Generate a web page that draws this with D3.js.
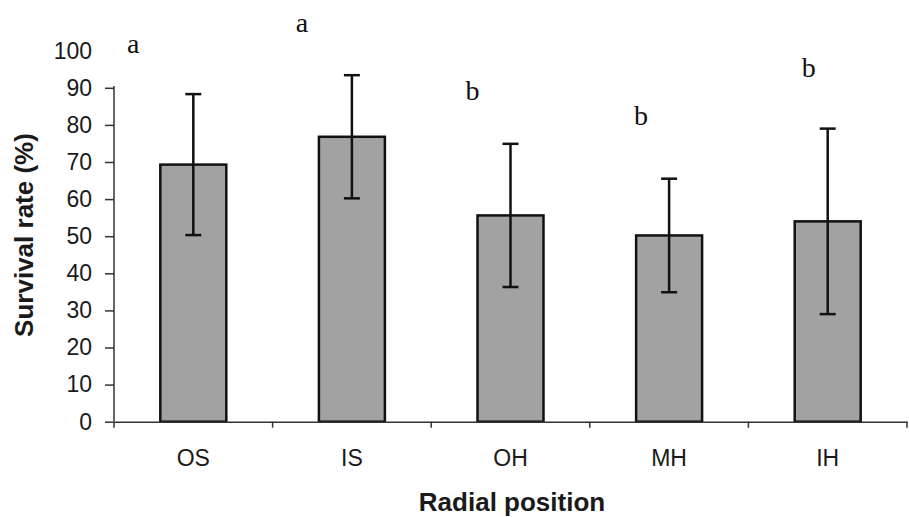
<!DOCTYPE html>
<html>
<head>
<meta charset="utf-8">
<script src="https://cdn.jsdelivr.net/npm/d3@7"></script>
<style>
  body { margin: 0; background: #fff; }
  svg { display: block; font-family: 'Liberation Sans', Arial, sans-serif; }
</style>
</head>
<body>
<div id="chart"></div>
<script>
const categories = ['OS', 'IS', 'OH', 'MH', 'IH'];
const survival = [69.3, 76.8, 55.6, 50.2, 54.0];
const errors = [19, 16.6, 19.3, 15.3, 25];
const letters = ['a', 'a', 'b', 'b', 'b'];
const yTicks = [0, 10, 20, 30, 40, 50, 60, 70, 80, 90, 100];

// where each significance letter sits: offset from bar centre (px) and height (in % units)
const letterPlacement = [
  { dx: -60, at: 99.4 },
  { dx: -50, at: 105 },
  { dx: -38, at: 86.7 },
  { dx: -28, at: 80 },
  { dx: -19, at: 92.9 },
];

const dimensions = {
  width: 909,
  height: 517,
  left: 114,
  right: 907,
  top: 50.7,
  bottom: 421.7,
};

const svg = d3.select('#chart').append('svg').attr('width', dimensions.width).attr('height', dimensions.height);

const xScale = d3.scaleBand().domain(categories).range([dimensions.left, dimensions.right]).paddingInner(0.584).paddingOuter(0.292);
const yScale = d3.scaleLinear().domain([0, 100]).range([dimensions.bottom, dimensions.top]);

const rows = categories.map((c, i) => ({ cat: c, value: survival[i], err: errors[i], letter: letters[i], place: letterPlacement[i] }));

// bars
svg
  .append('g')
  .selectAll('rect')
  .data(rows)
  .join('rect')
  .attr('x', (d) => xScale(d.cat))
  .attr('y', (d) => yScale(d.value))
  .attr('width', xScale.bandwidth())
  .attr('height', (d) => yScale(0) - yScale(d.value))
  .attr('fill', '#a2a2a2')
  .attr('stroke', '#111')
  .attr('stroke-width', 2.5);

// error bars
const cx = (d) => xScale(d.cat) + xScale.bandwidth() / 2;
const errG = svg.append('g').attr('stroke', '#111').attr('stroke-width', 2.5);
errG
  .selectAll('line.whisker')
  .data(rows)
  .join('line')
  .attr('class', 'whisker')
  .attr('x1', cx)
  .attr('x2', cx)
  .attr('y1', (d) => yScale(d.value - d.err))
  .attr('y2', (d) => yScale(d.value + d.err));
errG
  .selectAll('line.capTop')
  .data(rows)
  .join('line')
  .attr('class', 'capTop')
  .attr('x1', (d) => cx(d) - 8)
  .attr('x2', (d) => cx(d) + 8)
  .attr('y1', (d) => yScale(d.value + d.err))
  .attr('y2', (d) => yScale(d.value + d.err));
errG
  .selectAll('line.capBottom')
  .data(rows)
  .join('line')
  .attr('class', 'capBottom')
  .attr('x1', (d) => cx(d) - 8)
  .attr('x2', (d) => cx(d) + 8)
  .attr('y1', (d) => yScale(d.value - d.err))
  .attr('y2', (d) => yScale(d.value - d.err));

// y axis
const yAxis = d3.axisLeft(yScale).tickValues(yTicks).tickSize(9).tickPadding(13);
const yAxisGroup = svg.append('g').attr('transform', `translate(${dimensions.left},0)`).call(yAxis);
yAxisGroup.select('.domain').attr('d', `M0,${yScale(0)}V${yScale(90.5)}`).attr('stroke', '#333').attr('stroke-width', 1.5);
yAxisGroup.selectAll('.tick line').attr('stroke', '#333').attr('stroke-width', 1.5).filter((d) => d === 100).remove();
yAxisGroup.selectAll('.tick text').attr('font-size', 23).attr('fill', '#1a1a1a').attr('font-family', "'Liberation Sans', Arial, sans-serif");

// x axis
const xAxis = d3.axisBottom(xScale).tickSize(0).tickPadding(28);
const xAxisGroup = svg.append('g').attr('transform', `translate(0,${dimensions.bottom})`).call(xAxis);
xAxisGroup.select('.domain').attr('stroke', '#333').attr('stroke-width', 1.5);
xAxisGroup.selectAll('.tick text').attr('font-size', 23).attr('fill', '#1a1a1a').attr('font-family', "'Liberation Sans', Arial, sans-serif");

// boundary ticks between categories
const boundaries = d3.range(categories.length + 1).map((i) => dimensions.left + i * xScale.step());
xAxisGroup
  .selectAll('line.sep')
  .data(boundaries)
  .join('line')
  .attr('class', 'sep')
  .attr('x1', (d) => d)
  .attr('x2', (d) => d)
  .attr('y1', 0)
  .attr('y2', 6)
  .attr('stroke', '#333')
  .attr('stroke-width', 1.5);

// significance letters
svg
  .append('g')
  .selectAll('text')
  .data(rows)
  .join('text')
  .attr('x', (d) => cx(d) + d.place.dx)
  .attr('y', (d) => yScale(d.place.at))
  .attr('text-anchor', 'middle')
  .attr('font-family', "'Liberation Serif', 'Times New Roman', serif")
  .attr('font-size', 28)
  .attr('fill', '#111')
  .text((d) => d.letter);

// axis titles
svg
  .append('text')
  .attr('transform', 'translate(33,235) rotate(-90)')
  .attr('text-anchor', 'middle')
  .attr('font-size', 26)
  .attr('font-weight', 'bold')
  .attr('fill', '#1a1a1a')
  .text('Survival rate (%)');

svg
  .append('text')
  .attr('x', 512)
  .attr('y', 511)
  .attr('text-anchor', 'middle')
  .attr('font-size', 26)
  .attr('font-weight', 'bold')
  .attr('fill', '#1a1a1a')
  .text('Radial position');
</script>
</body>
</html>
